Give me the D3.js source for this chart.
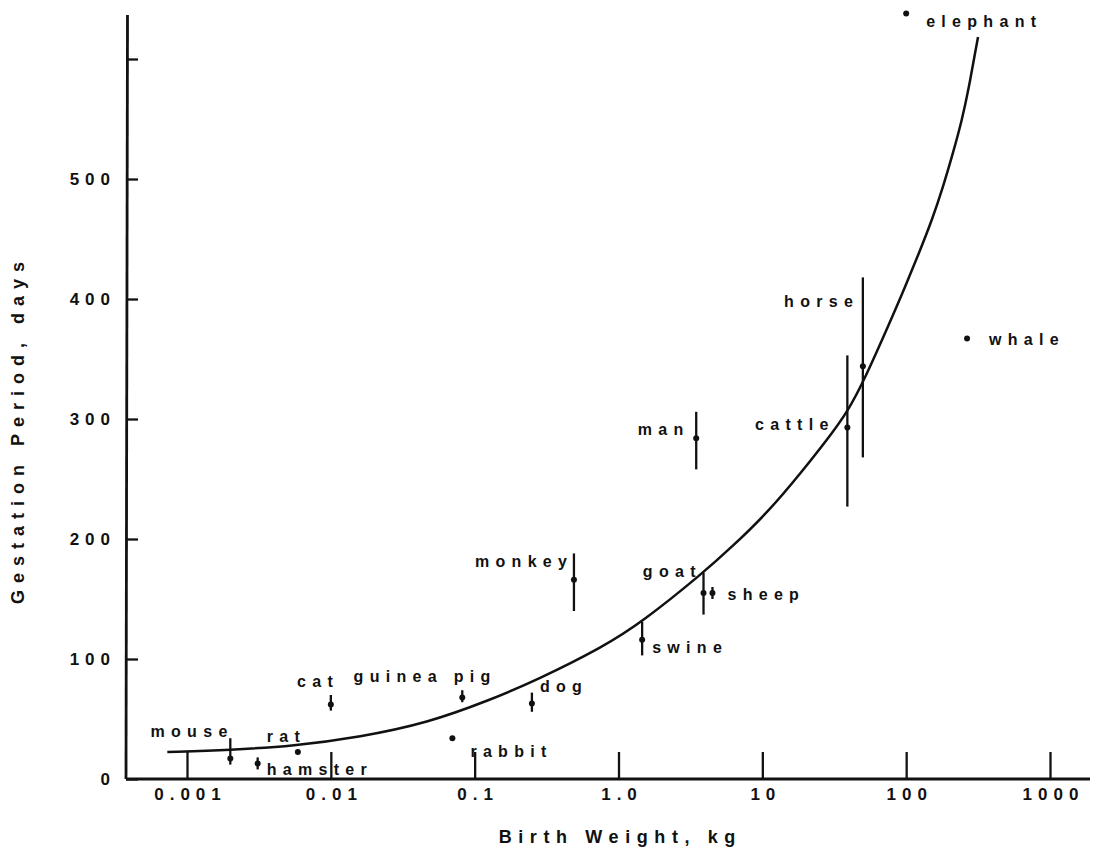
<!DOCTYPE html>
<html>
<head>
<meta charset="utf-8">
<script src="https://cdn.jsdelivr.net/npm/d3@7/dist/d3.min.js"></script>
<style>
  html, body { margin: 0; padding: 0; background: #fff; }
  svg { display: block; }
  text { font-family: "Liberation Sans", Arial, Helvetica, sans-serif; font-weight: bold; fill: #111; }
</style>
</head>
<body>
<svg id="chart" width="1098" height="859"></svg>
<script>
// ---- data ----
const categories = ["mouse","hamster","rat","cat","guinea pig","rabbit","dog","monkey","swine","goat","sheep","man","cattle","horse","whale","elephant"];
const birthWeight = [0.002, 0.0031, 0.0059, 0.01, 0.082, 0.07, 0.25, 0.49, 1.46, 3.9, 4.5, 3.47, 39, 50, 265, 100];
const gestation   = [17, 13, 22.5, 62, 68, 34, 63, 166, 116, 155, 155, 284, 293, 344, 367, 638];
const gestationLow  = [12, 8, null, 57, 64, null, 56, 140, 103, 137, 150, 258, 227, 268, null, null];
const gestationHigh = [34, 18, null, 70, 74, null, 72, 188, 131, 172, 160, 306, 353, 418, null, null];

// fitted curve, points
const curveWeight    = [0.00073, 0.002, 0.0055, 0.016, 0.047, 0.128, 0.271, 0.78, 1.46, 3.87, 6.25, 10.8, 18.3, 31, 38.8, 49.3, 77.2, 98.2, 122.8, 151.3, 180.4, 211.7, 244.5, 273.5, 301.1, 316];
const curveGestation = [22.5, 24.2, 27.5, 35, 46.7, 65.8, 82.5, 110, 130.8, 171.7, 194.2, 221.7, 254.2, 289.2, 305.8, 328.3, 380.8, 410, 438.3, 465.8, 493.3, 521.7, 549.2, 576.7, 605, 618.3];

const xTicks = [0.001, 0.01, 0.1, 1, 10, 100, 1000];
const xTickLabels = ["0.001", "0.01", "0.1", "1.0", "10", "100", "1000"];
const yTicks = [0, 100, 200, 300, 400, 500, 600];
const yTickLabels = ["0", "100", "200", "300", "400", "500", ""];

const xTitle = "Birth Weight, kg";
const yTitle = "Gestation Period, days";

// ---- layout (label placement relative to each point) ----
const labelLayout = {
  "mouse":      {anchor: "end",   dx: -3,  dy: -22},
  "hamster":    {anchor: "start", dx: 9,   dy: 12},
  "rat":        {anchor: "end",   dx: 2,   dy: -10},
  "cat":        {anchor: "end",   dx: 2,   dy: -18},
  "guinea pig": {anchor: "end",   dx: 28,  dy: -15},
  "rabbit":     {anchor: "start", dx: 18,  dy: 19},
  "dog":        {anchor: "start", dx: 8,   dy: -11},
  "monkey":     {anchor: "end",   dx: -7,  dy: -13},
  "swine":      {anchor: "start", dx: 10,  dy: 13},
  "goat":       {anchor: "end",   dx: -8,  dy: -16},
  "sheep":      {anchor: "start", dx: 15,  dy: 7},
  "man":        {anchor: "end",   dx: -13, dy: -3},
  "cattle":     {anchor: "end",   dx: -19, dy: 3},
  "horse":      {anchor: "end",   dx: -10, dy: -59},
  "whale":      {anchor: "start", dx: 22,  dy: 6},
  "elephant":   {anchor: "start", dx: 20,  dy: 14}
};

const svg = d3.select("#chart");
const ink = "#111";

const x = d3.scaleLog().domain([0.001, 1000]).range([187, 1050]);
const y = d3.scaleLinear().domain([0, 600]).range([779, 59]);

const axisLeftX = 126, axisY = 779;

// axis lines
svg.append("line").attr("x1", axisLeftX).attr("x2", 1090).attr("y1", axisY).attr("y2", axisY)
  .attr("stroke", ink).attr("stroke-width", 2.8);
svg.append("line").attr("x1", axisLeftX + 1.5).attr("x2", axisLeftX).attr("y1", 15).attr("y2", axisY)
  .attr("stroke", ink).attr("stroke-width", 2.8);

// x axis
const tickLS = 6;
const xAxis = d3.axisBottom(x).tickValues(xTicks)
  .tickFormat((d, i) => xTickLabels[i])
  .tickSizeInner(-27).tickSizeOuter(0).tickPadding(9);
const gx = svg.append("g").attr("transform", `translate(0,${axisY})`).call(xAxis);
gx.select(".domain").remove();
gx.selectAll(".tick line").attr("stroke", ink).attr("stroke-width", 2.3);
gx.selectAll(".tick text").attr("font-size", 17).attr("letter-spacing", tickLS)
  .attr("dx", tickLS / 2).style("fill", ink).attr("font-family", null);

// y axis
const yAxis = d3.axisLeft(y).tickValues(yTicks)
  .tickFormat((d, i) => yTickLabels[i])
  .tickSizeInner(-12).tickSizeOuter(0).tickPadding(16);
const gy = svg.append("g").attr("transform", `translate(${axisLeftX},0)`).call(yAxis);
gy.select(".domain").remove();
gy.selectAll(".tick line").attr("stroke", ink).attr("stroke-width", 2.3);
gy.selectAll(".tick text").attr("font-size", 17).attr("letter-spacing", tickLS)
  .attr("dx", tickLS).style("fill", ink).attr("font-family", null);

// axis titles
const titleLS = 6.6;
svg.append("text").attr("x", 617 + titleLS / 2).attr("y", 843)
  .attr("text-anchor", "middle").attr("font-size", 18).attr("letter-spacing", titleLS)
  .text(xTitle);
svg.append("text")
  .attr("transform", `translate(24,${433}) rotate(-90)`)
  .attr("dx", 7 / 2)
  .attr("text-anchor", "middle").attr("font-size", 18).attr("letter-spacing", 7)
  .text(yTitle);

// fitted curve
const curvePts = curveWeight.map((w, i) => [x(w), y(curveGestation[i])]);
svg.append("path")
  .attr("d", d3.line().curve(d3.curveBasis)(curvePts))
  .attr("fill", "none").attr("stroke", ink).attr("stroke-width", 2.5);

// data points
const pts = categories.map((name, i) => ({
  name, w: birthWeight[i], g: gestation[i], lo: gestationLow[i], hi: gestationHigh[i]
}));

const labelLS = 6.3;
const gp = svg.append("g");
pts.forEach(p => {
  const px = x(p.w), py = y(p.g);
  if (p.lo != null && p.hi != null) {
    gp.append("line").attr("x1", px).attr("x2", px).attr("y1", y(p.hi)).attr("y2", y(p.lo))
      .attr("stroke", ink).attr("stroke-width", 2.3);
  }
  gp.append("circle").attr("cx", px).attr("cy", py).attr("r", 3).attr("fill", ink);
  const L = labelLayout[p.name];
  gp.append("text")
    .attr("x", px + L.dx + (L.anchor === "end" ? labelLS : 0))
    .attr("y", py + L.dy)
    .attr("text-anchor", L.anchor)
    .attr("font-size", 16).attr("letter-spacing", labelLS)
    .text(p.name);
});
</script>
</body>
</html>
